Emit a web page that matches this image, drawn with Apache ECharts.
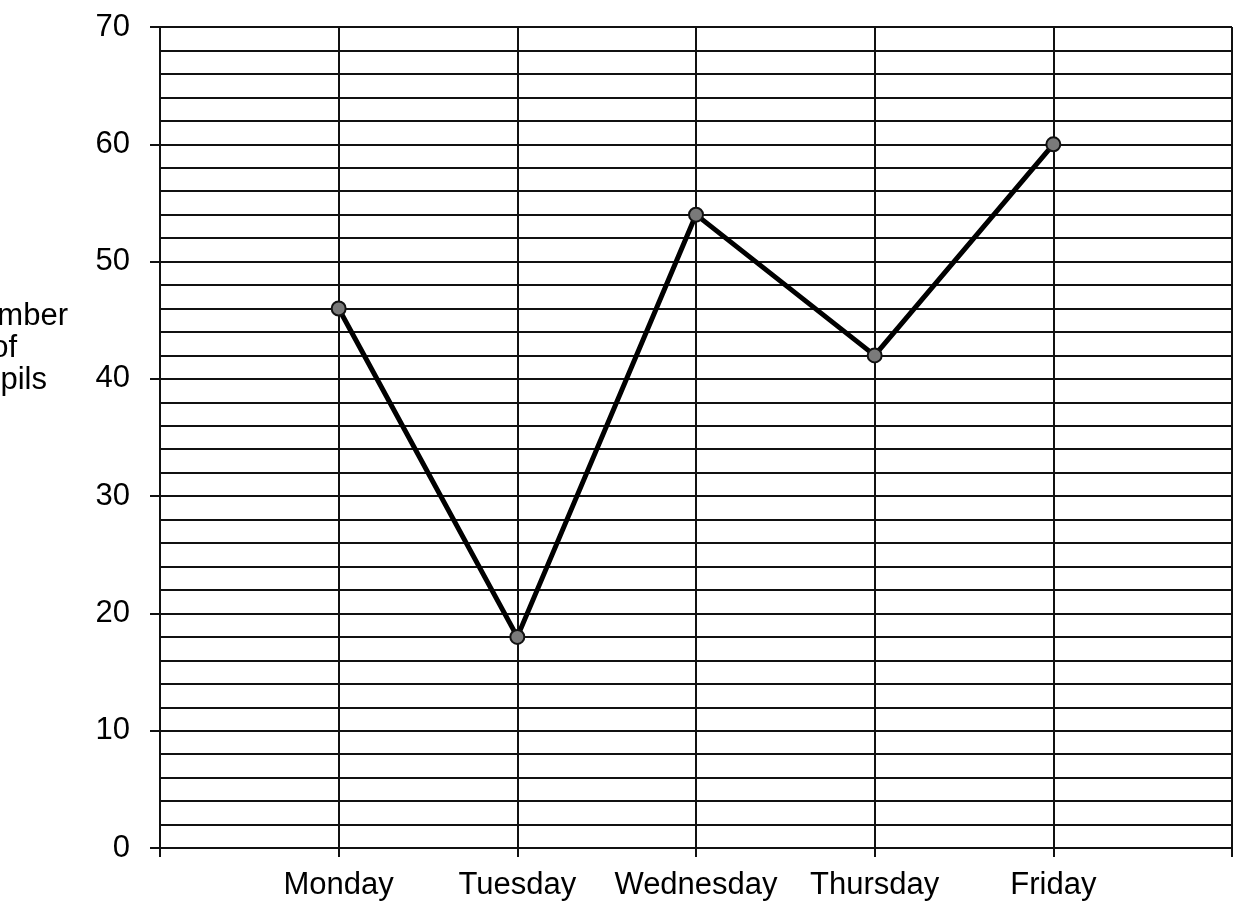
<!DOCTYPE html>
<html>
<head>
<meta charset="utf-8">
<script src="https://cdn.jsdelivr.net/npm/echarts@6/dist/echarts.min.js"></script>
<style>html,body{margin:0;padding:0;background:#fff}#c{width:1248px;height:903px}</style>
</head>
<body>
<div id="c"></div>
<script>
const categories = ['', 'Monday', 'Tuesday', 'Wednesday', 'Thursday', 'Friday', ''];
const pupils = [null, 46, 18, 54, 42, 60, null];
const yMin = 0, yMax = 70, majorStep = 10, minorStep = 2;

const chart = echarts.init(document.getElementById('c'), null, {renderer: 'canvas'});
const FONT = '"Liberation Sans", Arial, sans-serif';
const ink = '#111';
chart.setOption({
  animation: false,
  backgroundColor: '#fff',
  grid: {left: 160, right: 16, top: 27, bottom: 55},
  xAxis: {
    type: 'category',
    data: categories,
    boundaryGap: false,
    axisLine: {lineStyle: {color: ink, width: 2}},
    axisTick: {show: true, length: 9, lineStyle: {color: ink, width: 2}},
    axisLabel: {color: '#000', fontFamily: FONT, fontSize: 31, margin: 22, interval: 0},
    splitLine: {show: true, lineStyle: {color: ink, width: 2}}
  },
  yAxis: [{
    type: 'value', min: yMin, max: yMax, interval: majorStep,
    axisLine: {show: true, lineStyle: {color: ink, width: 2}},
    axisTick: {show: true, length: 10, lineStyle: {color: ink, width: 2}},
    axisLabel: {color: '#000', fontFamily: FONT, fontSize: 31, margin: 30},
    splitLine: {show: true, lineStyle: {color: ink, width: 2}}
  }, {
    type: 'value', min: yMin, max: yMax, interval: minorStep, position: 'left',
    axisLine: {show: false}, axisTick: {show: false}, axisLabel: {show: false},
    splitLine: {show: true, lineStyle: {color: ink, width: 2}}
  }],
  graphic: [
    {type: 'text', x: 68, y: 316, style: {text: 'Number', align: 'right', verticalAlign: 'middle', fontSize: 31, fontFamily: FONT, fill: '#000'}},
    {type: 'text', x: 17, y: 348, style: {text: 'of', align: 'right', verticalAlign: 'middle', fontSize: 31, fontFamily: FONT, fill: '#000'}},
    {type: 'text', x: 47, y: 380, style: {text: 'Pupils', align: 'right', verticalAlign: 'middle', fontSize: 31, fontFamily: FONT, fill: '#000'}}
  ],
  series: [{
    type: 'line',
    yAxisIndex: 0,
    data: pupils,
    connectNulls: false,
    lineStyle: {color: '#000', width: 5},
    symbol: 'circle',
    symbolSize: 14,
    itemStyle: {color: '#7a7a7a', borderColor: '#111', borderWidth: 2},
    z: 10
  }]
});
</script>
</body>
</html>
